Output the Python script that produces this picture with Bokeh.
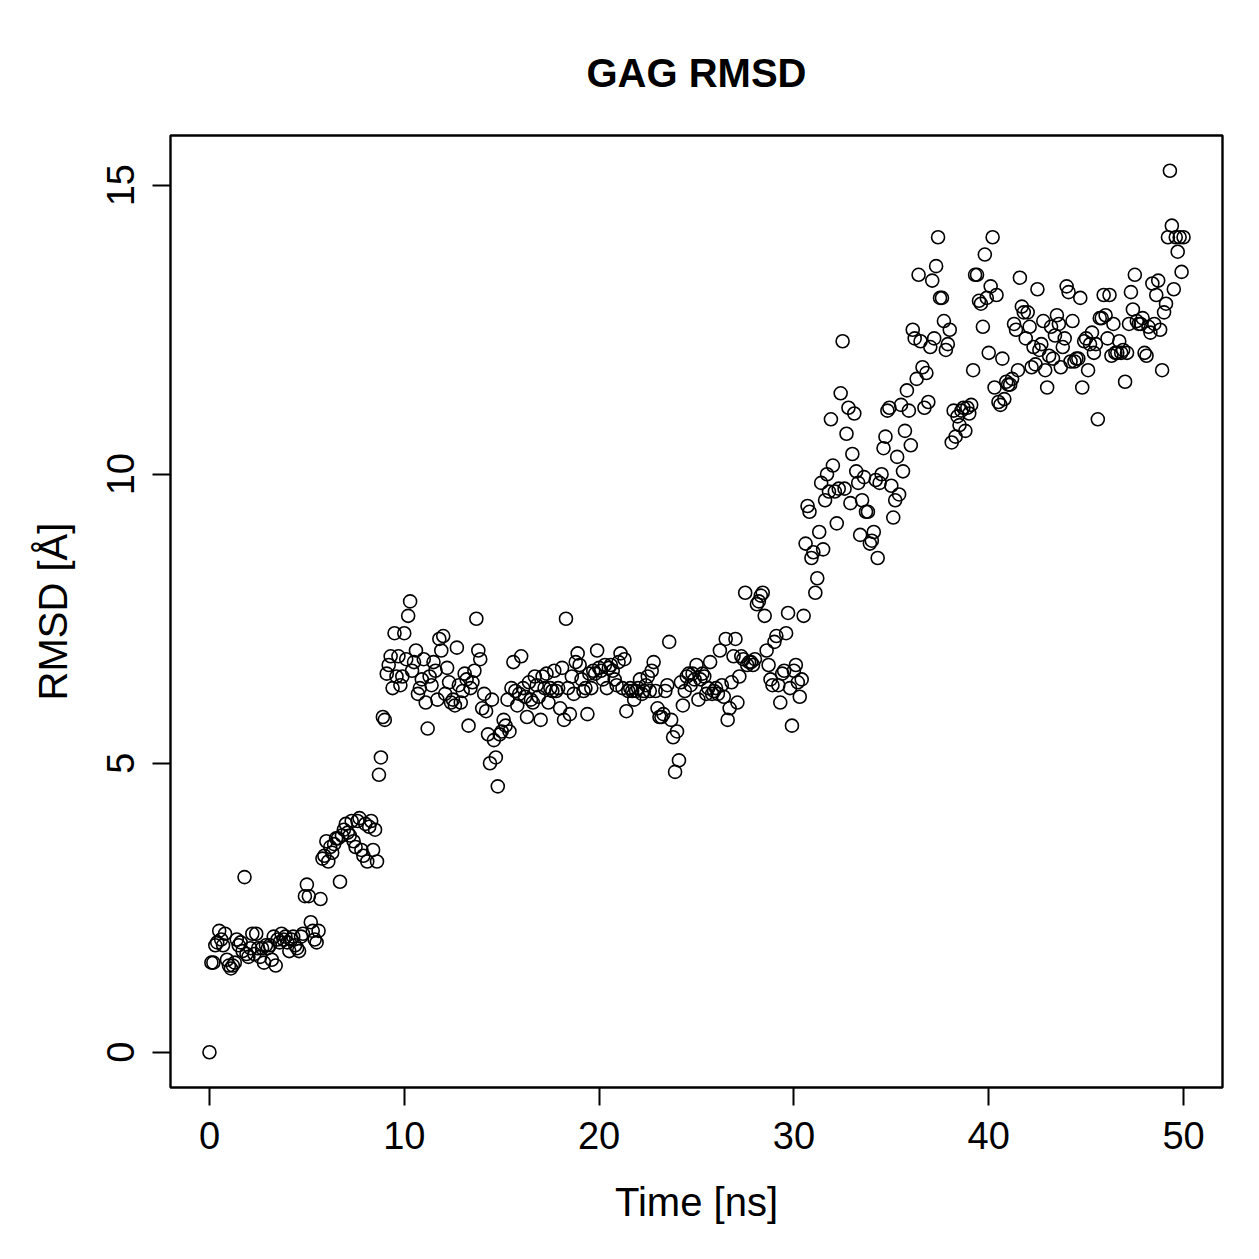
from bokeh.plotting import figure
from bokeh.embed import file_html
from bokeh.resources import INLINE
from bokeh.models import Range1d, FixedTicker

rmsd_0_10 = [
    0.0, 1.55, 1.55, 1.85, 1.9, 2.1, 1.95, 1.85, 2.05, 1.6,
    1.5, 1.45, 1.5, 1.55, 1.95, 1.85, 1.9, 1.75, 3.03, 1.7,
    1.65, 1.8, 2.05, 1.7, 2.05, 1.8, 1.65, 1.8, 1.55, 1.85,
    1.8, 1.85, 1.6, 2.0, 1.5, 1.95, 1.9, 2.05, 1.95, 2.0,
    1.9, 1.75, 1.95, 2.0, 1.85, 1.8, 1.75, 2.0, 2.05, 2.7,
    2.9, 2.7, 2.25, 2.1, 1.95, 1.9, 2.1, 2.65, 3.35, 3.4,
    3.65, 3.3, 3.55, 3.45, 3.6, 3.7, 3.7, 2.95, 3.75, 3.85,
    3.95, 3.8, 3.75, 4.0, 3.65, 3.55, 4.0, 4.05, 3.5, 3.4,
    3.95, 3.3, 3.9, 4.0, 3.5, 3.85, 3.3, 4.8, 5.1, 5.8,
    5.75, 6.55, 6.7, 6.85, 6.3, 7.25, 6.5, 6.85, 6.35, 6.5,
]
rmsd_10_20 = [
    7.25, 6.8, 7.55, 7.8, 6.6, 6.75, 6.95, 6.2, 6.3, 6.45,
    6.8, 6.05, 5.6, 6.5, 6.35, 6.75, 6.6, 6.1, 7.15, 6.95,
    7.2, 6.2, 6.65, 6.4, 6.05, 6.1, 6.0, 7.0, 6.35, 6.05,
    6.25, 6.55, 6.45, 5.65, 6.3, 6.4, 6.6, 7.5, 6.95, 6.8,
    5.95, 6.2, 5.9, 5.5, 5.0, 6.1, 5.4, 5.1, 4.6, 5.5,
    5.55, 5.75, 5.65, 6.1, 5.55, 6.3, 6.75, 6.25, 6.0, 6.2,
    6.85, 6.3, 6.15, 5.8, 6.4, 6.1, 6.05, 6.5, 6.35, 6.15,
    5.75, 6.5, 6.3, 6.55, 6.05, 6.3, 6.25, 6.6, 6.25, 6.3,
    5.95, 6.65, 5.75, 7.5, 6.3, 5.85, 6.5, 6.2, 6.75, 6.9,
    6.7, 6.45, 6.25, 6.3, 5.85, 6.55, 6.3, 6.6, 6.55, 6.95,
]
rmsd_20_30 = [
    6.65, 6.6, 6.45, 6.7, 6.3, 6.65, 6.7, 6.6, 6.45, 6.35,
    6.75, 6.9, 6.3, 6.8, 5.9, 6.25, 6.3, 6.25, 6.1, 6.25,
    6.3, 6.45, 6.2, 6.25, 6.35, 6.5, 6.25, 6.6, 6.75, 6.25,
    5.95, 5.8, 5.8, 5.85, 6.25, 6.35, 7.1, 5.75, 5.45, 4.85,
    5.55, 5.05, 6.4, 6.0, 6.25, 6.5, 6.55, 6.35, 6.55, 6.45,
    6.7, 6.1, 6.45, 6.55, 6.5, 6.2, 6.3, 6.75, 6.2, 6.25,
    6.3, 6.2, 6.95, 6.35, 6.15, 7.15, 5.75, 5.95, 6.4, 6.85,
    7.15, 6.05, 6.5, 6.85, 6.8, 7.95, 6.7, 6.75, 6.75, 6.7,
    6.8, 7.75, 7.8, 7.9, 7.95, 7.55, 6.95, 6.7, 6.45, 6.35,
    7.1, 7.2, 6.35, 6.05, 6.55, 6.6, 7.25, 7.6, 6.3, 5.65,
]
rmsd_30_40 = [
    6.6, 6.7, 6.4, 6.15, 6.45, 7.55, 8.8, 9.45, 9.35, 8.55,
    8.65, 7.95, 8.2, 9.0, 9.85, 8.7, 9.55, 10.0, 9.7, 10.95,
    10.15, 9.7, 9.15, 9.75, 11.4, 12.3, 9.75, 10.7, 11.15, 9.5,
    10.35, 11.05, 10.05, 9.85, 8.95, 9.55, 9.95, 9.35, 9.35, 8.8,
    8.85, 9.0, 9.9, 8.55, 9.85, 10.0, 10.45, 10.65, 11.1, 11.15,
    9.8, 9.25, 9.55, 10.3, 9.65, 11.2, 10.05, 10.75, 11.45, 11.1,
    10.5, 12.5, 12.35, 11.65, 13.45, 12.3, 11.85, 11.15, 11.75, 11.25,
    12.2, 13.35, 12.35, 13.6, 14.1, 13.05, 13.05, 12.65, 12.15, 12.25,
    12.5, 10.55, 11.1, 10.65, 11.0, 10.85, 11.1, 11.15, 10.75, 11.15,
    11.05, 11.2, 11.8, 13.45, 13.45, 13.0, 12.95, 12.55, 13.8, 13.05,
]
rmsd_40_50 = [
    12.1, 13.25, 14.1, 11.5, 13.1, 11.25, 11.2, 12.0, 11.3, 11.6,
    11.55, 11.55, 11.65, 12.6, 12.5, 11.8, 13.4, 12.9, 12.8, 12.35,
    12.8, 12.55, 11.85, 12.2, 11.9, 13.2, 12.15, 12.25, 12.65, 11.8,
    11.5, 12.05, 12.55, 12.0, 12.4, 12.75, 12.6, 11.85, 12.2, 12.35,
    13.25, 13.15, 11.95, 12.65, 11.95, 12.0, 12.0, 13.05, 11.5, 12.3,
    12.35, 11.8, 12.25, 12.45, 12.1, 12.25, 10.95, 12.7, 12.7, 13.1,
    12.75, 12.35, 13.1, 12.05, 12.6, 12.1, 12.1, 12.3, 12.1, 12.15,
    11.6, 12.1, 12.6, 13.15, 12.85, 13.45, 12.65, 12.6, 12.6, 12.7,
    12.1, 12.05, 12.55, 12.45, 13.3, 12.6, 13.1, 13.35, 12.5, 11.8,
    12.8, 12.95, 14.1, 15.25, 14.3, 13.2, 14.1, 13.85, 14.1, 13.5,
    14.1,
]
rmsd = rmsd_0_10 + rmsd_10_20 + rmsd_20_30 + rmsd_30_40 + rmsd_40_50
time_ns = [round(i * 0.1, 1) for i in range(len(rmsd))]

x_ticks = [0, 10, 20, 30, 40, 50]
y_ticks = [0, 5, 10, 15]

title_text = "GAG RMSD"
x_label = "Time [ns]"
y_label = "RMSD [Å]"

xmin, xmax = min(time_ns), max(time_ns)
ymin, ymax = min(rmsd), max(rmsd)
xpad = 0.04 * (xmax - xmin)
ypad = 0.04 * (ymax - ymin)

FONT = "Liberation Sans"

p = figure(width=1259, height=1259, output_backend="svg", toolbar_location=None,
           x_range=Range1d(xmin - xpad, xmax + xpad),
           y_range=Range1d(ymin - ypad, ymax + ypad),
           title=title_text,
           min_border_left=170, min_border_right=37,
           min_border_top=135, min_border_bottom=172)

p.title.align = "center"
p.title.text_font = FONT
p.title.text_font_size = "40px"
p.title.text_font_style = "bold"
p.title.text_color = "black"
p.title.standoff = 82

p.xgrid.visible = False
p.ygrid.visible = False
p.outline_line_color = "black"
p.outline_line_width = 2.4
p.background_fill_color = "white"
p.border_fill_color = "white"

for ax in (p.xaxis[0], p.yaxis[0]):
    ax.axis_line_color = None
    ax.major_tick_line_color = "black"
    ax.major_tick_line_width = 2
    ax.major_tick_out = 18
    ax.major_tick_in = 0
    ax.minor_tick_line_color = None
    ax.major_label_text_font = FONT
    ax.major_label_text_font_size = "38px"
    ax.major_label_text_color = "black"
    ax.axis_label_text_font = FONT
    ax.axis_label_text_font_size = "40px"
    ax.axis_label_text_font_style = "normal"
    ax.axis_label_text_color = "black"

p.xaxis[0].ticker = FixedTicker(ticks=x_ticks)
p.yaxis[0].ticker = FixedTicker(ticks=y_ticks)
p.xaxis[0].axis_label = x_label
p.yaxis[0].axis_label = y_label
p.xaxis[0].major_label_standoff = 16
p.xaxis[0].axis_label_standoff = 28
p.yaxis[0].major_label_orientation = "vertical"
p.yaxis[0].major_label_standoff = 18
p.yaxis[0].axis_label_standoff = 30

p.scatter(time_ns, rmsd, marker="circle", size=13, fill_color=None,
          line_color="black", line_width=1.6)

open("out.html", "w").write(file_html(p, INLINE))
